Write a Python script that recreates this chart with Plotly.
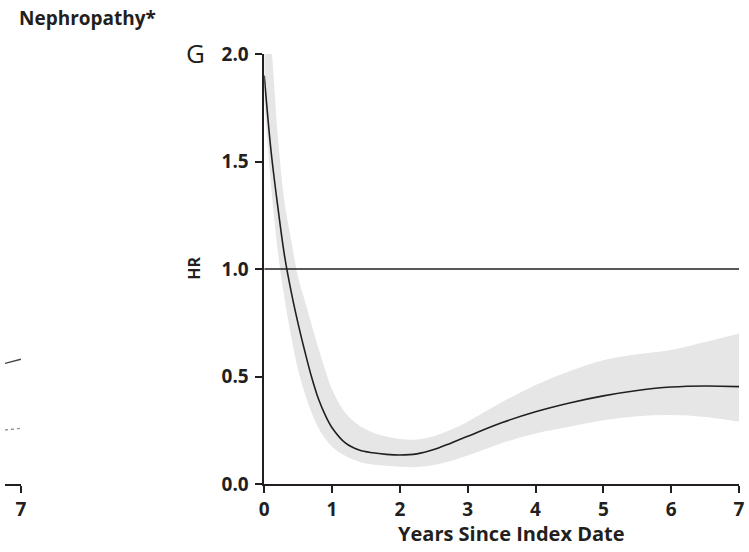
import plotly.graph_objects as go

# ---------------- data ----------------
years = [0, 0.1, 0.2, 0.3, 0.4, 0.5, 0.6, 0.7, 0.8, 0.9, 1.0, 1.2, 1.4, 1.6, 1.8,
         2.0, 2.25, 2.5, 2.75, 3.0, 3.5, 4.0, 4.5, 5.0, 5.5, 6.0, 6.5, 7.0]
hr = [1.90, 1.55, 1.29, 1.06, 0.89, 0.745, 0.615, 0.495, 0.395, 0.32, 0.262, 0.19,
      0.158, 0.145, 0.138, 0.135, 0.14, 0.16, 0.19, 0.222, 0.285, 0.336, 0.377,
      0.41, 0.435, 0.451, 0.456, 0.453]
hr_upper = [2.30, 2.05, 1.62, 1.31, 1.13, 0.96, 0.85, 0.74, 0.63, 0.53, 0.44, 0.33,
            0.272, 0.24, 0.221, 0.209, 0.207, 0.222, 0.252, 0.29, 0.38, 0.46, 0.525,
            0.576, 0.603, 0.623, 0.66, 0.70]
hr_lower = [1.78, 1.39, 1.08, 0.86, 0.68, 0.53, 0.42, 0.33, 0.26, 0.21, 0.173, 0.13,
            0.104, 0.091, 0.085, 0.08, 0.079, 0.088, 0.107, 0.133, 0.19, 0.235, 0.266,
            0.296, 0.315, 0.321, 0.312, 0.29]
ref_x = [0, 7]
ref_hr = [1.0, 1.0]

# fragment of the neighbouring panel on the left edge
frag_x = [6.75, 7.0]
frag_solid = [0.561, 0.58]
frag_dotted = [0.251, 0.259]

x_ticks = [0, 1, 2, 3, 4, 5, 6, 7]
y_ticks = [0.0, 0.5, 1.0, 1.5, 2.0]

# ---------------- layout constants ----------------
W, H = 749, 552
ML, MR, MT, MB = 0, 10, 54, 68
PW = W - ML - MR
PH = H - MT - MB
X0 = 261  # pixel of main x axis start


def px(xp):
    return (xp - ML) / PW


def py(yp):
    return (H - MB - yp) / PH


INK = "#231f20"
FONT = "Open Sans"

fig = go.Figure()

# confidence band
fig.add_trace(go.Scatter(x=years, y=hr_upper, mode="lines",
                         line=dict(width=0, shape="spline", smoothing=1.0,
                                   color="rgba(0,0,0,0)"),
                         hoverinfo="skip", showlegend=False))
fig.add_trace(go.Scatter(x=years, y=hr_lower, mode="lines", fill="tonexty",
                         fillcolor="#e6e6e6",
                         line=dict(width=0, shape="spline", smoothing=1.0,
                                   color="rgba(0,0,0,0)"),
                         hoverinfo="skip", showlegend=False))
# reference line HR = 1
fig.add_trace(go.Scatter(x=ref_x, y=ref_hr, mode="lines",
                         line=dict(color=INK, width=1.5), showlegend=False))
# HR curve
fig.add_trace(go.Scatter(x=years, y=hr, mode="lines",
                         line=dict(color=INK, width=1.6, shape="spline", smoothing=1.0),
                         showlegend=False))

# neighbouring panel fragment
fig.add_trace(go.Scatter(x=frag_x, y=frag_solid, mode="lines", xaxis="x2", yaxis="y2",
                         line=dict(color="#444444", width=1.4), showlegend=False))
fig.add_trace(go.Scatter(x=frag_x, y=frag_dotted, mode="lines", xaxis="x2", yaxis="y2",
                         line=dict(color="#888888", width=1.2, dash="dot"), showlegend=False))

axis_common = dict(showgrid=False, zeroline=False, showline=True, linecolor=INK,
                   linewidth=1.5, ticks="outside", ticklen=7, tickwidth=1.5,
                   tickcolor=INK,
                   tickfont=dict(family=FONT, size=19, color=INK, weight="bold"))

fig.update_layout(
    width=W, height=H,
    margin=dict(l=ML, r=MR, t=MT, b=MB),
    paper_bgcolor="white", plot_bgcolor="white",
    xaxis=dict(domain=[px(X0), 1], range=[0, 7], tickvals=x_ticks,
               ticktext=[str(v) for v in x_ticks], anchor="y", **axis_common),
    yaxis=dict(domain=[0, 1], range=[0, 2.0], tickvals=y_ticks,
               ticktext=[f"{v:.1f}" for v in y_ticks], anchor="x",
               ticklabelstandoff=3, **axis_common),
    xaxis2=dict(domain=[0, px(16)], range=[6.75, 7.0], tickvals=[7], ticktext=["7"],
                anchor="y2", **axis_common),
    yaxis2=dict(domain=[0, 1], range=[0, 2.0], visible=False, anchor="x2"),
    showlegend=False,
)

annotations = [
    dict(text="Nephropathy*", x=px(12), y=py(18), xanchor="left", yanchor="middle",
         font=dict(family=FONT, size=19, color=INK, weight="bold")),
    dict(text="G", x=px(192), y=py(53), xanchor="center", yanchor="middle",
         font=dict(family=FONT, size=26, color=INK)),
    dict(text="HR", x=px(190), y=py(268), xanchor="center", yanchor="middle",
         textangle=-90, font=dict(family=FONT, size=16, color=INK, weight="bold")),
    dict(text="Years Since Index Date", x=px(510), y=py(533), xanchor="center",
         yanchor="middle", font=dict(family=FONT, size=20, color=INK, weight="bold")),
]
for a in annotations:
    a.update(xref="paper", yref="paper", showarrow=False)
fig.update_layout(annotations=annotations)

fig.write_html("out.html")
